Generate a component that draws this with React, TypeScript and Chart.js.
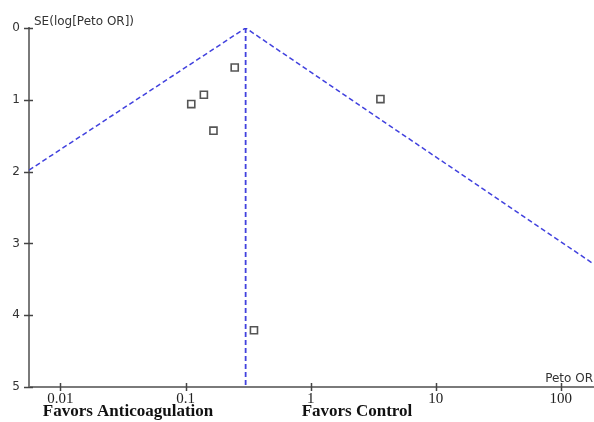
import React, { useEffect, useRef } from "react";
import { Chart, registerables } from "chart.js";

Chart.register(...registerables);

// Study estimates (Peto OR, SE of log Peto OR)
const studyOR = [0.247, 0.14, 0.111, 0.167, 3.61, 0.352];
const studySE = [0.55, 0.93, 1.06, 1.43, 0.99, 4.21];

// Funnel (95% pseudo-confidence limits) drawn as a broken line
const funnelOR = [0.0056, 0.302, 184];
const funnelSE = [1.98, 0, 3.29];

// Pooled estimate vertical line
const pooledOR = [0.302, 0.302];
const pooledSE = [0, 5];

const xTicks = [0.01, 0.1, 1, 10, 100];
const xTickLabels = ["0.01", "0.1", "1", "10", "100"];
const yTicks = [0, 1, 2, 3, 4, 5];

const xMin = 0.0056;
const xMax = 184;

const yTitle = "SE(log[Peto OR])";
const xTitle = "Peto OR";
const leftNote = "Favors Anticoagulation";
const rightNote = "Favors Control";

const blue = "rgba(55,55,220,0.95)";
const axisGrey = "#7a7a7a";

export default function App() {
  const ref = useRef<HTMLCanvasElement | null>(null);

  useEffect(() => {
    document.body.style.margin = "0";
    const canvas = ref.current;
    if (!canvas) return;

    const overlay = {
      id: "overlay",
      afterDraw(chart: any) {
        const ctx = chart.ctx;
        const xs = chart.scales.x;
        const ys = chart.scales.y;
        const area = chart.chartArea;
        ctx.save();
        // tick marks crossing axes
        ctx.strokeStyle = "#444";
        ctx.lineWidth = 1.5;
        xTicks.forEach((v) => {
          const px = Math.round(xs.getPixelForValue(v)) + 0.5;
          ctx.beginPath();
          ctx.moveTo(px, area.bottom - 4);
          ctx.lineTo(px, area.bottom + 4);
          ctx.stroke();
        });
        yTicks.forEach((v) => {
          const py = Math.round(ys.getPixelForValue(v)) + 0.5;
          ctx.beginPath();
          ctx.moveTo(area.left - 5, py);
          ctx.lineTo(area.left + 4, py);
          ctx.stroke();
        });
        // texts
        ctx.fillStyle = "#333";
        ctx.font = "12px 'DejaVu Sans'";
        ctx.textAlign = "left";
        ctx.textBaseline = "alphabetic";
        ctx.fillText(yTitle, area.left + 5, 25);
        ctx.textAlign = "right";
        ctx.fillText(xTitle, 593, 382);
        ctx.fillStyle = "#111";
        ctx.font = "bold 17px 'Liberation Serif'";
        ctx.textAlign = "center";
        ctx.fillText(leftNote, 128, 416);
        ctx.fillText(rightNote, 357, 416);
        ctx.restore();
      },
    };

    const chart = new Chart(canvas, {
      type: "scatter",
      data: {
        datasets: [
          {
            label: "funnel",
            data: funnelOR.map((x, i) => ({ x, y: funnelSE[i] })),
            showLine: true,
            pointRadius: 0,
            borderColor: blue,
            borderWidth: 1.5,
            borderDash: [5, 3],
            fill: false,
          },
          {
            label: "pooled",
            data: pooledOR.map((x, i) => ({ x, y: pooledSE[i] })),
            showLine: true,
            pointRadius: 0,
            borderColor: blue,
            borderWidth: 1.8,
            borderDash: [5, 3],
            fill: false,
          },
          {
            label: "studies",
            data: studyOR.map((x, i) => ({ x, y: studySE[i] })),
            pointStyle: "rect",
            pointRadius: 5,
            pointBorderWidth: 1.6,
            borderColor: "#555",
            backgroundColor: "#fff",
          },
        ],
      },
      options: {
        responsive: false,
        animation: false,
        layout: { autoPadding: false, padding: { top: 28, right: 0, left: 0, bottom: 0 } },
        plugins: {
          legend: { display: false },
          tooltip: { enabled: false },
        },
        scales: {
          x: {
            type: "logarithmic",
            min: xMin,
            max: xMax,
            afterBuildTicks(scale: any) {
              scale.ticks = xTicks.map((v) => ({ value: v }));
            },
            afterFit(scale: any) {
              scale.height = 35;
              scale.paddingLeft = 0;
              scale.paddingRight = 0;
            },
            grid: { display: false, drawTicks: false },
            border: { display: true, color: axisGrey, width: 2 },
            ticks: {
              autoSkip: false,
              maxRotation: 0,
              padding: 3,
              color: "#222",
              font: { family: "'Liberation Serif'", size: 15 },
              callback(value: any) {
                const i = xTicks.indexOf(Number(value));
                return i >= 0 ? xTickLabels[i] : "";
              },
            },
          },
          y: {
            type: "linear",
            reverse: true,
            min: 0,
            max: 5,
            afterBuildTicks(scale: any) {
              scale.ticks = yTicks.map((v) => ({ value: v }));
            },
            afterFit(scale: any) {
              scale.width = 29;
            },
            grid: { display: false, drawTicks: false },
            border: { display: true, color: axisGrey, width: 2 },
            ticks: {
              padding: 9,
              color: "#333",
              font: { family: "'DejaVu Sans'", size: 12 },
            },
          },
        },
      },
      plugins: [overlay],
    } as any);

    return () => chart.destroy();
  }, []);

  return (
    <div style={{ width: 594, height: 422 }}>
      <canvas ref={ref} width={594} height={422} />
    </div>
  );
}
